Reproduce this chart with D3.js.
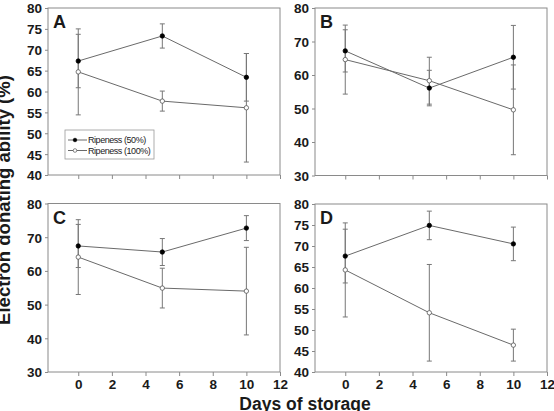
<!DOCTYPE html>
<html>
<head>
<meta charset="utf-8">
<script src="https://cdn.jsdelivr.net/npm/d3@7"></script>
<style>
  body { margin: 0; background: #fff; }
  text { font-family: "Liberation Sans", Arial, sans-serif; }
</style>
</head>
<body>
<svg id="canvas"></svg>
<script>
// storage days (x) and tick labels
const days = [0, 5, 10];
const xTicks = [0, 2, 4, 6, 8, 10, 12];

const panelNames = ["A", "B", "C", "D"];

// y ticks of each panel
const yTicksA = [40, 45, 50, 55, 60, 65, 70, 75, 80];
const yTicksB = [30, 40, 50, 60, 70, 80];
const yTicksC = [30, 40, 50, 60, 70, 80];
const yTicksD = [40, 45, 50, 55, 60, 65, 70, 75, 80];

// Ripeness (50%) means and errors, one row per panel A..D
const ripe50 = [
  [67.3, 73.3, 63.4],
  [67.2, 56.1, 65.3],
  [67.4, 65.6, 72.7],
  [67.6, 74.9, 70.5]
];
const ripe50Err = [
  [6.4, 2.9, 5.7],
  [6.3, 5.3, 9.5],
  [6.4, 4.0, 3.7],
  [6.4, 3.4, 4.0]
];

// Ripeness (100%) means and errors
const ripe100 = [
  [64.7, 57.7, 56.1],
  [64.6, 58.3, 49.6],
  [64.1, 54.9, 54.0],
  [64.3, 54.1, 46.4]
];
const ripe100Err = [
  [10.3, 2.4, 13.0],
  [10.3, 7.0, 13.4],
  [11.1, 5.9, 13.0],
  [11.2, 11.5, 3.8]
];

const width = 554, height = 411;
const svg = d3.select("#canvas").attr("width", width).attr("height", height);

// panel boxes (left, right, top, bottom)
const boxes = [
  {l: 48,  r: 280, t: 8,     b: 175},
  {l: 315, r: 547, t: 8,     b: 175.5},
  {l: 48,  r: 280, t: 203.5, b: 372},
  {l: 315, r: 547, t: 204,   b: 372}
];
const yTickSets = [yTicksA, yTicksB, yTicksC, yTicksD];

const frameColor = "#8a8a8a";
const lineColor = "#6a6a6a";
const errColor = "#777";

panelNames.forEach((name, p) => {
  const box = boxes[p];
  const yt = yTickSets[p];
  const x = d3.scaleLinear().domain([-1.8, 12]).range([box.l, box.r]);
  const y = d3.scaleLinear().domain([yt[0], yt[yt.length - 1]]).range([box.b, box.t]);
  const g = svg.append("g");

  // frame
  g.append("rect")
    .attr("x", box.l).attr("y", box.t)
    .attr("width", box.r - box.l).attr("height", box.b - box.t)
    .attr("fill", "none").attr("stroke", frameColor).attr("stroke-width", 1);

  // y axis
  const yAxis = g.append("g")
    .attr("transform", `translate(${box.l},0)`)
    .call(d3.axisLeft(y).tickValues(yt).tickSize(3).tickPadding(3).tickFormat(d3.format("d")));
  yAxis.select(".domain").remove();
  yAxis.selectAll("line").attr("stroke", frameColor);
  yAxis.selectAll("text")
    .attr("font-size", 13.5).attr("font-weight", "bold").attr("fill", "#1a1a1a")
    .attr("font-family", "'Liberation Sans', Arial, sans-serif")
    .attr("dy", "0.36em");

  // x axis (labels only on bottom row)
  const bottomRow = p >= 2;
  const xAxis = g.append("g")
    .attr("transform", `translate(0,${box.b})`)
    .call(d3.axisBottom(x).tickValues(xTicks).tickSize(4).tickPadding(3)
      .tickFormat(bottomRow ? d3.format("d") : () => ""));
  xAxis.select(".domain").remove();
  xAxis.selectAll("line").attr("stroke", frameColor);
  xAxis.selectAll("text")
    .attr("font-size", 13.5).attr("font-weight", "bold").attr("fill", "#1a1a1a")
    .attr("font-family", "'Liberation Sans', Arial, sans-serif");

  // panel letter
  g.append("text")
    .attr("x", box.l + 5).attr("y", box.t + 20)
    .attr("font-size", 18).attr("font-weight", "bold").attr("fill", "#1a1a1a")
    .text(name);

  const series = [
    {mean: ripe50[p], err: ripe50Err[p], fill: "#000", stroke: "#000"},
    {mean: ripe100[p], err: ripe100Err[p], fill: "#fff", stroke: "#555"}
  ];

  const line = d3.line().x((d, i) => x(days[i])).y(d => y(d));

  series.forEach(s => {
    // error bars
    days.forEach((day, i) => {
      const lo = s.mean[i] - s.err[i], hi = s.mean[i] + s.err[i];
      g.append("line")
        .attr("x1", x(day)).attr("x2", x(day))
        .attr("y1", y(lo)).attr("y2", y(hi))
        .attr("stroke", errColor).attr("stroke-width", 1);
      [lo, hi].forEach(v => {
        g.append("line")
          .attr("x1", x(day) - 2.5).attr("x2", x(day) + 2.5)
          .attr("y1", y(v)).attr("y2", y(v))
          .attr("stroke", errColor).attr("stroke-width", 1);
      });
    });
  });

  series.forEach(s => {
    g.append("path")
      .attr("d", line(s.mean))
      .attr("fill", "none").attr("stroke", lineColor).attr("stroke-width", 1);
  });

  series.forEach(s => {
    g.selectAll(null)
      .data(s.mean)
      .join("circle")
      .attr("cx", (d, i) => x(days[i]))
      .attr("cy", d => y(d))
      .attr("r", 2.2)
      .attr("fill", s.fill)
      .attr("stroke", s.stroke).attr("stroke-width", 0.8);
  });
});

// legend in panel A
const legend = svg.append("g");
legend.append("rect")
  .attr("x", 65).attr("y", 130).attr("width", 89).attr("height", 29)
  .attr("fill", "#fff").attr("stroke", "#999").attr("stroke-width", 0.8);

const legendItems = ["Ripeness (50%)", "Ripeness (100%)"];
const legendFill = ["#000", "#fff"];
const legendStroke = ["#000", "#555"];
legendItems.forEach((label, i) => {
  const ly = 140 + i * 10.5;
  legend.append("line")
    .attr("x1", 68).attr("x2", 87).attr("y1", ly).attr("y2", ly)
    .attr("stroke", "#444").attr("stroke-width", 0.8);
  legend.append("circle")
    .attr("cx", 75).attr("cy", ly).attr("r", 1.8)
    .attr("fill", legendFill[i]).attr("stroke", legendStroke[i]).attr("stroke-width", 0.7);
  legend.append("text")
    .attr("x", 88).attr("y", ly + 3.2)
    .attr("font-size", 9).attr("letter-spacing", -0.45).attr("fill", "#222")
    .text(label);
});

// axis titles
svg.append("text")
  .attr("x", 305).attr("y", 410)
  .attr("text-anchor", "middle")
  .attr("font-size", 17.5).attr("font-weight", "bold").attr("fill", "#1a1a1a")
  .text("Days of storage");

svg.append("text")
  .attr("transform", "translate(10,200) rotate(-90)")
  .attr("text-anchor", "middle")
  .attr("font-size", 18.5).attr("font-weight", "bold").attr("fill", "#1a1a1a")
  .text("Electron donating ability (%)");
</script>
</body>
</html>
